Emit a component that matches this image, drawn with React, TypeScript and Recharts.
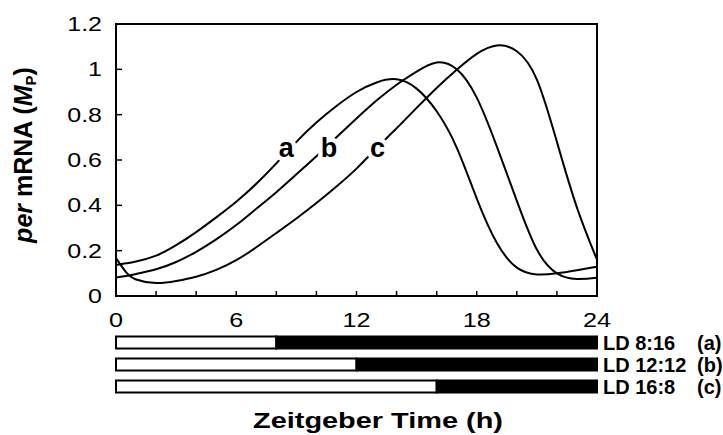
import React from 'react';
import { LineChart, Line, XAxis, YAxis, ReferenceArea, ReferenceDot, BarChart, Bar } from 'recharts';

// Zeitgeber time (h)
const hours = [0, 0.5, 1, 2, 3, 4, 5, 6, 7, 8, 9, 10, 11, 12, 13, 14, 15, 16, 17, 18, 19, 20, 21, 22, 23, 24];
// per mRNA (M_P) for LD 8:16 (a), LD 12:12 (b), LD 16:8 (c)
const seriesA = [0.137, 0.144, 0.152, 0.178, 0.224, 0.282, 0.347, 0.416, 0.495, 0.585, 0.68, 0.765, 0.838, 0.9, 0.942, 0.956, 0.915, 0.815, 0.655, 0.43, 0.235, 0.125, 0.095, 0.1, 0.114, 0.129];
const seriesB = [0.082, 0.088, 0.097, 0.118, 0.15, 0.195, 0.25, 0.313, 0.385, 0.458, 0.537, 0.617, 0.7, 0.783, 0.862, 0.932, 0.99, 1.03, 1.0, 0.875, 0.66, 0.42, 0.205, 0.1, 0.075, 0.08];
const seriesC = [0.167, 0.105, 0.073, 0.057, 0.066, 0.085, 0.115, 0.158, 0.215, 0.278, 0.342, 0.41, 0.483, 0.562, 0.652, 0.74, 0.83, 0.918, 0.998, 1.068, 1.105, 1.08, 0.955, 0.68, 0.39, 0.16];

const xTicks = [0, 2, 4, 6, 8, 10, 12, 14, 16, 18, 20, 22, 24];
const xLabelTicks = [0, 6, 12, 18, 24];
const yTicks = [0, 0.2, 0.4, 0.6, 0.8, 1, 1.2];

const ldNames = ['a', 'b', 'c'];
const lightHours = [8, 12, 16];
const darkHours = [16, 12, 8];
const ldLabels = ['LD 8:16', 'LD 12:12', 'LD 16:8'];
const ldTags = ['(a)', '(b)', '(c)'];

const FONT = '"Liberation Sans", Arial, Helvetica, sans-serif';

const curveData = hours.map((h, i) => ({ h, a: seriesA[i], b: seriesB[i], c: seriesC[i] }));
const ldData = ldNames.map((n, i) => ({ name: n, light: lightHours[i], dark: darkHours[i], label: ldLabels[i] }));

const XTick = (props: any) => {
  const { x, y, payload } = props;
  const v = payload.value;
  return (
    <g>
      <line x1={x} y1={y} x2={x} y2={y - 5} stroke="#000" strokeWidth={1.5} />
      {xLabelTicks.includes(v) && (
        <text transform={`translate(${x},${y + 31}) scale(1.2,1)`} textAnchor="middle" fontFamily={FONT} fontSize={21} fill="#000">
          {String(v)}
        </text>
      )}
    </g>
  );
};

const YTick = (props: any) => {
  const { x, y, payload } = props;
  return (
    <g>
      <line x1={x} y1={y} x2={x + 6} y2={y} stroke="#000" strokeWidth={1.5} />
      <text transform={`translate(${x - 14},${y + 7}) scale(1.25,1)`} textAnchor="end" fontFamily={FONT} fontSize={20} fill="#000">
        {String(payload.value)}
      </text>
    </g>
  );
};

const LdTick = (props: any) => {
  const { x, y, payload } = props;
  const i = ldLabels.indexOf(payload.value);
  return (
    <g fontFamily={FONT} fontWeight="bold" fontSize={20} fill="#000">
      <text x={x + 6} y={y + 7}>{payload.value}</text>
      <text x={x + 100} y={y + 7}>{ldTags[i]}</text>
    </g>
  );
};

const curveLabel = (t: string) => (props: any) => (
  <text
    x={props.cx}
    y={props.cy}
    textAnchor="middle"
    fontFamily={FONT}
    fontWeight="bold"
    fontSize={27}
    fill="#000"
    stroke="#fff"
    strokeWidth={9}
    strokeLinejoin="round"
    paintOrder="stroke"
  >
    {t}
  </text>
);

export default function App() {
  return (
    <div style={{ position: 'absolute', left: 0, top: 0, width: 723, height: 435, background: '#fff' }}>
      <div style={{ position: 'absolute', left: 0, top: 0 }}>
        <LineChart width={723} height={340} data={curveData} margin={{ top: 24, right: 126, bottom: 14, left: 56 }}>
          <XAxis
            type="number"
            dataKey="h"
            domain={[0, 24]}
            ticks={xTicks}
            interval={0}
            tick={<XTick />}
            tickLine={false}
            tickSize={0}
            tickMargin={0}
            axisLine={{ stroke: '#000', strokeWidth: 2 }}
            height={30}
          />
          <YAxis
            type="number"
            domain={[0, 1.2]}
            ticks={yTicks}
            interval={0}
            tick={<YTick />}
            tickLine={false}
            tickSize={0}
            tickMargin={0}
            axisLine={{ stroke: '#000', strokeWidth: 2 }}
            width={60}
          />
          <ReferenceArea x1={0} x2={24} y1={0} y2={1.2} fill="none" fillOpacity={0} stroke="#000" strokeWidth={2} />
          <Line type="natural" dataKey="a" stroke="#000" strokeWidth={2} dot={false} isAnimationActive={false} />
          <Line type="natural" dataKey="b" stroke="#000" strokeWidth={2} dot={false} isAnimationActive={false} />
          <Line type="natural" dataKey="c" stroke="#000" strokeWidth={2} dot={false} isAnimationActive={false} />
          <ReferenceDot x={8.5} y={0.612} r={0} shape={curveLabel('a')} />
          <ReferenceDot x={10.63} y={0.612} r={0} shape={curveLabel('b')} />
          <ReferenceDot x={13.05} y={0.612} r={0} shape={curveLabel('c')} />
        </LineChart>
      </div>
      <div style={{ position: 'absolute', left: 0, top: 0 }}>
        <BarChart layout="vertical" width={723} height={435} data={ldData} margin={{ top: 331.5, right: 6, bottom: 37.5, left: 116 }} barSize={12}>
          <XAxis type="number" domain={[0, 24]} hide />
          <YAxis
            type="category"
            dataKey="label"
            orientation="right"
            width={120}
            axisLine={false}
            tickLine={false}
            tickSize={0}
            tickMargin={0}
            interval={0}
            tick={<LdTick />}
          />
          <Bar dataKey="light" stackId="ld" fill="#fff" stroke="#000" strokeWidth={2} isAnimationActive={false} />
          <Bar dataKey="dark" stackId="ld" fill="#000" stroke="#000" strokeWidth={2} isAnimationActive={false} />
        </BarChart>
      </div>
      <svg width={723} height={435} style={{ position: 'absolute', left: 0, top: 0, pointerEvents: 'none' }}>
        <text x={253} y={428} textLength={250} lengthAdjust="spacingAndGlyphs" fontFamily={FONT} fontWeight="bold" fontSize={22} fill="#000">
          Zeitgeber Time (h)
        </text>
        <text transform="translate(32,155) rotate(-90)" textAnchor="middle" fontFamily={FONT} fontWeight="bold" fontSize={25} fill="#000">
          <tspan fontStyle="italic">per</tspan>
          <tspan> mRNA (</tspan>
          <tspan fontStyle="italic">M</tspan>
          <tspan fontSize={15} dy={4}>P</tspan>
          <tspan dy={-4}>)</tspan>
        </text>
      </svg>
    </div>
  );
}
